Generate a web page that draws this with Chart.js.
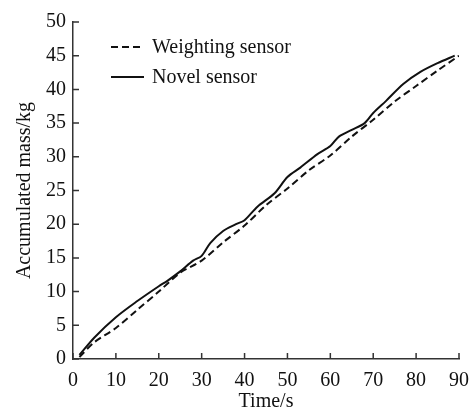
<!DOCTYPE html>
<html lang="en">
<head>
    <meta charset="UTF-8">
    <title>Accumulated mass</title>
    <script src="https://cdn.jsdelivr.net/npm/chart.js"></script>
    <style>
        body {
            margin: 0;
            background: #ffffff;
        }
        .chart-box {
            width: 470px;
            height: 410px;
        }
    </style>
</head>
<body>
    <div class="chart-box">
        <canvas id="massChart"></canvas>
    </div>

    <script>
        // values
        const novelTime = [1.5, 5, 10, 15, 20, 22, 25, 28, 30, 32, 35, 38, 40, 43, 47, 50, 53, 57, 60, 62, 65, 68, 70, 73, 77, 81, 85, 89];
        const novelMass = [0.6, 3.2, 6.2, 8.6, 10.8, 11.6, 13.0, 14.6, 15.3, 17.2, 19.0, 20.0, 20.6, 22.6, 24.6, 27.0, 28.4, 30.4, 31.6, 33.0, 34.0, 35.0, 36.5, 38.3, 40.8, 42.6, 43.9, 45.0];
        const weighTime = [1.5, 5, 10, 15, 20, 25, 30, 35, 40, 45, 50, 55, 60, 65, 70, 75, 80, 85, 90];
        const weighMass = [0.3, 2.5, 4.6, 7.3, 10.0, 12.8, 14.6, 17.3, 19.8, 22.8, 25.3, 28.0, 30.2, 33.0, 35.5, 38.2, 40.5, 42.8, 45.0];
        const xTicks = [0, 10, 20, 30, 40, 50, 60, 70, 80, 90];
        const yTicks = [0, 5, 10, 15, 20, 25, 30, 35, 40, 45, 50];
        const seriesNames = ['Weighting sensor', 'Novel sensor'];

        const serif = "'Liberation Serif', 'Times New Roman', serif";
        const axisColor = '#333333';

        const toPoints = (xs, ys) => xs.map((x, i) => ({ x: x, y: ys[i] }));

        // small tick marks that point into the plot
        const innerTicks = {
            id: 'innerTicks',
            afterDraw(chart) {
                const ctx = chart.ctx;
                const xs = chart.scales.x;
                const ys = chart.scales.y;
                const area = chart.chartArea;
                ctx.save();
                ctx.strokeStyle = axisColor;
                ctx.lineWidth = 1.5;
                ctx.beginPath();
                xTicks.forEach(v => {
                    const px = xs.getPixelForValue(v);
                    ctx.moveTo(px, area.bottom);
                    ctx.lineTo(px, area.bottom - 6);
                });
                yTicks.forEach(v => {
                    const py = ys.getPixelForValue(v);
                    ctx.moveTo(area.left, py);
                    ctx.lineTo(area.left + 6, py);
                });
                ctx.stroke();
                ctx.restore();
            }
        };

        // legend inside the plot, top left
        const innerLegend = {
            id: 'innerLegend',
            afterDraw(chart) {
                const ctx = chart.ctx;
                const area = chart.chartArea;
                const x0 = area.left + 38;
                const rows = [area.top + 25, area.top + 55];
                ctx.save();
                ctx.font = '20px ' + serif;
                ctx.fillStyle = '#111111';
                ctx.textBaseline = 'middle';
                chart.data.datasets.forEach((ds, i) => {
                    ctx.beginPath();
                    ctx.strokeStyle = '#111111';
                    ctx.lineWidth = 2;
                    ctx.setLineDash(ds.borderDash || []);
                    ctx.moveTo(x0, rows[i]);
                    ctx.lineTo(x0 + 33, rows[i]);
                    ctx.stroke();
                    ctx.setLineDash([]);
                    ctx.fillText(ds.label, x0 + 41, rows[i] + 1);
                });
                ctx.restore();
            }
        };

        const ctxMass = document.getElementById('massChart').getContext('2d');
        new Chart(ctxMass, {
            type: 'line',
            data: {
                datasets: [{
                    label: seriesNames[0],
                    data: toPoints(weighTime, weighMass),
                    borderColor: '#111111',
                    borderWidth: 2,
                    borderDash: [7, 4],
                    pointRadius: 0,
                    tension: 0.3,
                    fill: false
                }, {
                    label: seriesNames[1],
                    data: toPoints(novelTime, novelMass),
                    borderColor: '#111111',
                    borderWidth: 2,
                    pointRadius: 0,
                    tension: 0.3,
                    fill: false
                }]
            },
            options: {
                responsive: true,
                maintainAspectRatio: false,
                animation: false,
                layout: {
                    padding: { top: 22, right: 11, left: 0, bottom: 0 }
                },
                scales: {
                    x: {
                        type: 'linear',
                        min: 0,
                        max: 90,
                        afterBuildTicks: s => { s.ticks = xTicks.map(v => ({ value: v })); },
                        afterFit: s => {
                            s.height = 51;
                            s.paddingLeft = 0;
                            s.paddingRight = 0;
                        },
                        grid: { display: false, drawTicks: false },
                        border: { display: true, color: axisColor, width: 1.5 },
                        ticks: {
                            color: '#111111',
                            padding: 10,
                            maxRotation: 0,
                            font: { family: serif, size: 20 }
                        },
                        title: {
                            display: true,
                            text: 'Time/s',
                            color: '#111111',
                            padding: { top: 0, bottom: -2 },
                            font: { family: serif, size: 20, lineHeight: 1 }
                        }
                    },
                    y: {
                        min: 0,
                        max: 50,
                        afterBuildTicks: s => { s.ticks = yTicks.map(v => ({ value: v })); },
                        afterFit: s => {
                            s.width = 73;
                            s.paddingTop = 0;
                            s.paddingBottom = 0;
                        },
                        grid: { display: false, drawTicks: false },
                        border: { display: true, color: axisColor, width: 1.5 },
                        ticks: {
                            color: '#111111',
                            padding: 7,
                            font: { family: serif, size: 20 }
                        },
                        title: {
                            display: true,
                            text: 'Accumulated mass/kg',
                            color: '#111111',
                            padding: { top: 13, bottom: 0 },
                            font: { family: serif, size: 20 }
                        }
                    }
                },
                plugins: {
                    legend: { display: false },
                    tooltip: { enabled: false }
                }
            },
            plugins: [innerTicks, innerLegend]
        });
    </script>
</body>
</html>
